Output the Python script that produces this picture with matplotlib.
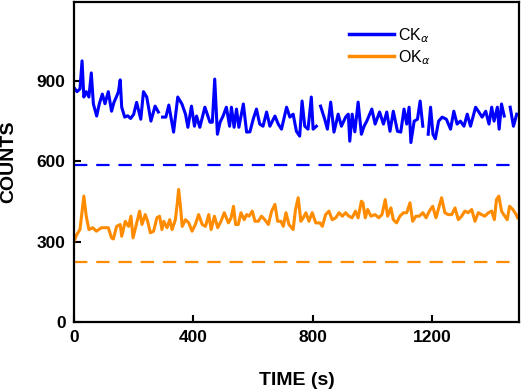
import matplotlib
matplotlib.use('Agg')
import matplotlib.pyplot as plt
import numpy as np

nan = np.nan

# CK alpha counts (time in s)
ck_time = [0, 10, 20, 27, 33, 41, 50, 58, 65, 76, 85, 95, 104, 115, 126, 134, 142, 149, 155, 160,
           170, 180, 190, 200, 210, 224, 233, 244, 258, 272, 283, 290, 297, 308, 318, 334, 348, 362,
           374, 382, 394, 404, 411, 422, 439, 456, 464, 472, 481, 490, 500, 511, 522, 528, 537, 545,
           553, 568, 579, 590, 601, 612, 623, 634, 646, 657, 674, 685, 696, 713, 724, 735, 746, 757,
           765, 774, 785, 796, 802, 813, 818, 827, 841, 850, 861, 872, 886, 897, 911, 920, 925, 933,
           942, 953, 964, 973, 982, 999, 1010, 1025, 1038, 1049, 1060, 1071, 1085, 1096, 1107, 1116,
           1124, 1130, 1141, 1152, 1161, 1170, 1178, 1188, 1196, 1204, 1212, 1223, 1235, 1249, 1263,
           1274, 1285, 1296, 1308, 1319, 1330, 1347, 1358, 1369, 1381, 1392, 1401, 1409, 1420, 1426,
           1434, 1443, 1454, 1463, 1474, 1485]
ck_counts = [875, 860, 870, 975, 840, 860, 840, 930, 814, 769, 815, 851, 815, 860, 787, 820, 840, 860,
             904, 802, 765, 770, 760, 775, 820, 757, 860, 840, 750, 806, 784, nan, 765, 765, 810, 709,
             840, 814, 776, 727, 806, 731, 769, 727, 802, 746, 746, 907, 701, 746, 769, 802, 731, 802,
             727, 795, 727, 814, 709, 710, 757, 795, 739, 731, 784, 731, 769, 739, 720, 802, 765, 776,
             712, 694, 825, 731, 720, 840, 720, 731, nan, 806, 757, 720, 821, 709, 776, 731, 765, 776,
             675, 776, 710, 821, 701, 731, 750, 795, 739, 784, 739, 784, 712, 787, 712, 709, 795, 739,
             802, 670, 750, 757, 825, 731, nan, 701, 802, 701, 684, 750, 765, 757, 720, 787, 739, 750,
             731, 776, 731, 802, 784, 765, 787, 739, 802, 750, 802, 720, 814, 769, nan, 802, 731, 776]

# O K alpha counts (time in s)
ok_time = [0, 9, 20, 28, 33, 41, 50, 63, 75, 92, 103, 115, 126, 132, 143, 155, 160, 172, 183, 191,
           198, 209, 220, 228, 239, 247, 256, 267, 278, 287, 295, 301, 312, 321, 329, 340, 346, 351,
           357, 363, 374, 385, 396, 407, 418, 430, 441, 452, 460, 471, 482, 493, 504, 518, 527, 535,
           542, 551, 560, 571, 579, 587, 598, 607, 618, 629, 640, 652, 663, 674, 683, 694, 702, 711,
           721, 735, 743, 752, 761, 769, 778, 788, 799, 811, 825, 833, 844, 855, 866, 878, 889, 900,
           911, 922, 933, 944, 953, 964, 969, 977, 985, 996, 1010, 1022, 1033, 1044, 1052, 1063, 1071,
           1082, 1093, 1105, 1116, 1127, 1136, 1147, 1158, 1170, 1181, 1192, 1203, 1214, 1225, 1233,
           1244, 1255, 1267, 1278, 1289, 1300, 1311, 1322, 1334, 1345, 1356, 1367, 1378, 1390, 1401,
           1410, 1417, 1425, 1434, 1445, 1453, 1461, 1472, 1483, 1488]
ok_counts = [301, 326, 345, 420, 470, 395, 345, 352, 339, 352, 352, 352, 314, 310, 357, 364, 320, 376,
             357, 395, 314, 364, 414, 364, 401, 376, 333, 339, 389, 395, 345, 376, 352, 382, 345, 382,
             439, 495, 432, 357, 382, 370, 339, 364, 401, 364, 357, 401, 345, 395, 352, 376, 408, 370,
             389, 432, 364, 364, 408, 382, 401, 395, 414, 376, 376, 395, 382, 364, 414, 439, 376, 376,
             357, 408, 364, 345, 420, 464, 376, 389, 408, 376, 408, 370, 370, 357, 401, 414, 382, 389,
             408, 395, 408, 395, 389, 414, 389, 451, 445, 389, 420, 395, 401, 389, 401, 457, 395, 426,
             382, 370, 395, 408, 408, 445, 376, 395, 395, 408, 389, 414, 432, 389, 432, 464, 408, 401,
             401, 426, 382, 395, 414, 408, 420, 376, 408, 401, 395, 408, 414, 382, 457, 470, 414, 395,
             382, 432, 420, 401, 389]

# background levels
ck_base = 585
ok_base = 225

blue = '#0000ff'
orange = '#ff8c00'

plt.rcParams['font.family'] = ['Liberation Sans', 'DejaVu Sans']

fig = plt.figure(figsize=(5.23, 3.9), dpi=100)
ax = fig.add_axes([0.1415, 0.1744, 0.8505, 0.8206])

ax.plot(ck_time, ck_counts, color=blue, lw=2.2, label=r'CK$_{\alpha}$')
ax.plot(ok_time, ok_counts, color=orange, lw=2.2, label=r'OK$_{\alpha}$')
ax.axhline(ck_base, color=blue, lw=1.6, dashes=(6, 4))
ax.axhline(ok_base, color=orange, lw=1.6, dashes=(6, 4))

ax.set_xlim(0, 1492)
ax.set_ylim(0, 1195)
ax.set_xticks([0, 400, 800, 1200])
ax.set_yticks([0, 300, 600, 900])
ax.tick_params(direction='in', length=5, width=1.5, labelsize=12.5, pad=6)
for lab in ax.get_xticklabels() + ax.get_yticklabels():
    lab.set_fontweight('bold')
for s in ax.spines.values():
    s.set_linewidth(1.6)

ax.set_xlabel('TIME (s)', fontsize=14, fontweight='bold', labelpad=19)
ax.set_ylabel('COUNTS', fontsize=14, fontweight='bold', labelpad=14)

leg = ax.legend(loc='upper left', bbox_to_anchor=(0.6, 0.95), frameon=False, fontsize=11.5,
                borderpad=0, handlelength=2.8, handletextpad=0.3, labelspacing=0.2)
for l in leg.get_lines():
    l.set_linewidth(2.5)

fig.savefig('out.png', dpi=100)
